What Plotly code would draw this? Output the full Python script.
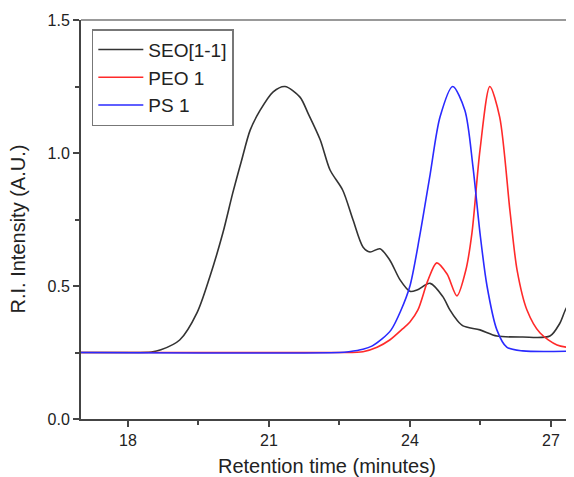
import plotly.graph_objects as go

# Retention times (minutes) and R.I. intensities (A.U.)
time_seo = [17.0, 18.0, 18.5, 18.7, 19.1, 19.47, 19.74, 20.02, 20.23, 20.42, 20.6, 20.81,
            21.09, 21.34, 21.66, 21.83, 22.09, 22.3, 22.57, 22.79, 23.0, 23.15, 23.36,
            23.57, 23.79, 24.0, 24.15, 24.43, 24.7, 24.85, 25.0, 25.13, 25.49, 25.85,
            26.4, 26.98, 27.19, 27.36, 27.47]
seo = [0.25, 0.25, 0.252, 0.26, 0.297, 0.40, 0.534, 0.70, 0.85, 0.974, 1.086, 1.16,
       1.23, 1.25, 1.21, 1.15, 1.05, 0.936, 0.86, 0.748, 0.647, 0.628, 0.64,
       0.598, 0.523, 0.48, 0.485, 0.51, 0.46, 0.41, 0.372, 0.35, 0.335, 0.312,
       0.308, 0.312, 0.36, 0.425, 0.42]

time_peo = [17.0, 22.5, 23.0, 23.3, 23.57, 23.85, 24.0, 24.17, 24.38, 24.57, 24.79, 25.0,
            25.19, 25.32, 25.49, 25.70, 25.91, 26.13, 26.28, 26.49, 26.77, 27.13, 27.47]
peo = [0.25, 0.25, 0.253, 0.27, 0.297, 0.34, 0.365, 0.41, 0.52, 0.587, 0.545, 0.463,
       0.56, 0.70, 1.01, 1.25, 1.135, 0.78, 0.56, 0.41, 0.323, 0.278, 0.267]

time_ps = [17.0, 22.5, 22.7, 23.0, 23.2, 23.4, 23.6, 23.8, 24.0, 24.21, 24.43, 24.64, 24.91,
           25.17, 25.34, 25.49, 25.64, 25.85, 26.06, 26.4, 27.47]
ps = [0.25, 0.25, 0.253, 0.262, 0.275, 0.30, 0.335, 0.405, 0.50, 0.69, 0.92, 1.135, 1.25,
      1.16, 0.95, 0.70, 0.50, 0.335, 0.27, 0.256, 0.255]

names = ["SEO[1-1]", "PEO 1", "PS 1"]
colors = ["#333333", "#ff2a2a", "#2a2aff"]

x_ticks = [18, 21, 24, 27]
x_minor = [19.5, 22.5, 25.5]
y_ticks = [0.0, 0.5, 1.0, 1.5]
y_minor = [0.25, 0.75, 1.25]

FONT = "Liberation Sans, Arial, sans-serif"

fig = go.Figure()
for t, v, n, c in zip([time_seo, time_peo, time_ps], [seo, peo, ps], names, colors):
    fig.add_trace(go.Scatter(x=t, y=v, name=n, mode="lines",
                             line=dict(color=c, width=1.6, shape="spline", smoothing=0.8)))

axis_common = dict(showgrid=False, zeroline=False, ticks="outside", ticklen=6, tickwidth=1.5,
                   tickcolor="#444", showline=True, linecolor="#444", linewidth=2,
                   tickfont=dict(family=FONT, size=16, color="#222"))

# The page body has an 8px margin, so the figure is sized to fit the 574x477 window.
fig.update_layout(
    width=566, height=469,
    margin=dict(l=73, r=1, t=12, b=58),
    plot_bgcolor="white", paper_bgcolor="white",
    font=dict(family=FONT, color="#222"),
    xaxis=dict(range=[17, 27.47], tickmode="array", tickvals=x_ticks,
               minor=dict(tickmode="array", tickvals=x_minor, ticks="outside", ticklen=4,
                          tickwidth=1.5, tickcolor="#444"),
               **axis_common),
    yaxis=dict(range=[0, 1.5], tickmode="array", tickvals=y_ticks, tickformat=".1f",
               minor=dict(tickmode="array", tickvals=y_minor, ticks="outside", ticklen=4,
                          tickwidth=1.5, tickcolor="#444"),
               **axis_common),
    legend=dict(x=0.022, y=0.977, xanchor="left", yanchor="top", bgcolor="white",
                bordercolor="#777", borderwidth=1.5, itemwidth=45,
                font=dict(family=FONT, size=19, color="#222"), tracegroupgap=0),
    showlegend=True,
    shapes=[
        dict(type="line", xref="paper", yref="paper", x0=0, x1=1, y0=1, y1=1,
             line=dict(color="#777", width=1.5)),
        dict(type="line", xref="paper", yref="paper", x0=1, x1=1, y0=0, y1=1,
             line=dict(color="#999", width=1)),
    ],
    annotations=[
        dict(text="Retention time (minutes)", xref="paper", yref="paper", x=0.5, y=-0.1178,
             xanchor="center", yanchor="middle", showarrow=False,
             font=dict(family=FONT, size=20, color="#222")),
        dict(text="R.I. Intensity (A.U.)", xref="paper", yref="paper", x=-0.128, y=0.475,
             xanchor="center", yanchor="middle", textangle=-90, showarrow=False,
             font=dict(family=FONT, size=20, color="#222")),
    ],
)

fig.write_html("out.html")
